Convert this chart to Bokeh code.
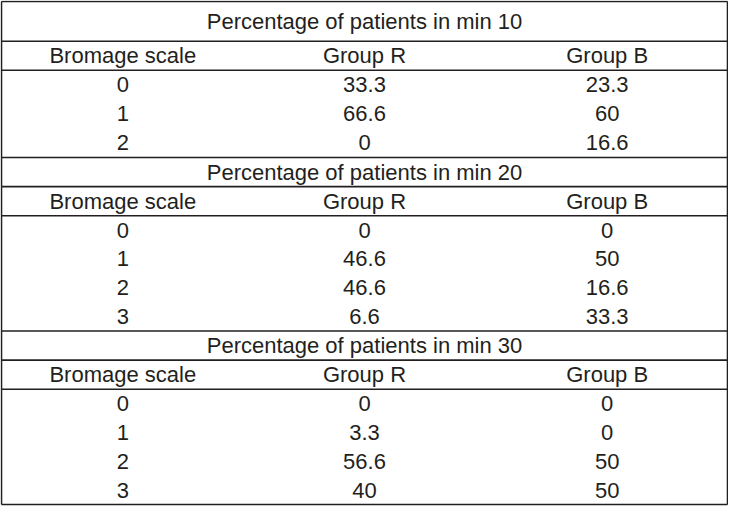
from bokeh.plotting import figure
from bokeh.models import Range1d, ColumnDataSource
from bokeh.embed import file_html
from bokeh.resources import INLINE
from bokeh.core.properties import value

# ---- data ----
minutes = [10, 20, 30]
col_headers = ["Bromage scale", "Group R", "Group B"]
bromage_scales = [["0", "1", "2"], ["0", "1", "2", "3"], ["0", "1", "2", "3"]]
group_r = [["33.3", "66.6", "0"], ["0", "46.6", "46.6", "6.6"], ["0", "3.3", "56.6", "40"]]
group_b = [["23.3", "60", "16.6"], ["0", "50", "16.6", "33.3"], ["0", "0", "50", "50"]]

# ---- layout (reference pixel space) ----
W, H = 744, 522
col_x = [125, 372, 620]
title_h = [41, 30, 30]
header_h = 30
row_h = [30, 29.75, 29.75]
top = 1

tx, ty, tt = [], [], []
line_y = [top]
y = top
for s, m in enumerate(minutes):
    # title row
    tx.append(W / 2); ty.append(y + title_h[s] / 2); tt.append(f"Percentage of patients in min {m}")
    y += title_h[s]
    line_y.append(y)
    # header row
    for cx, h in zip(col_x, col_headers):
        tx.append(cx); ty.append(y + header_h / 2); tt.append(h)
    y += header_h
    line_y.append(y)
    # data rows
    for a, b, c in zip(bromage_scales[s], group_r[s], group_b[s]):
        for cx, v in zip(col_x, (a, b, c)):
            tx.append(cx); ty.append(y + row_h[s] / 2); tt.append(v)
        y += row_h[s]
    line_y.append(y)

p = figure(width=728, height=506, x_range=Range1d(0, W), y_range=Range1d(H, 0),
           output_backend="svg", toolbar_location=None, min_border=0)
p.axis.visible = False
p.grid.visible = False
p.outline_line_color = None
p.background_fill_color = "white"
p.border_fill_color = "white"

ink = "#231f20"
xl, xr = 1, W - 1
p.segment(x0=[xl] * len(line_y), y0=line_y, x1=[xr] * len(line_y), y1=line_y,
          line_width=1.6, line_color=ink)
p.segment(x0=[xl, xr], y0=[line_y[0]] * 2, x1=[xl, xr], y1=[line_y[-1]] * 2,
          line_width=1.6, line_color=ink)

src = ColumnDataSource(dict(x=tx, y=ty, t=tt))
p.text(x="x", y="y", text="t", source=src, text_align="center", text_baseline="middle",
       text_font=value("Liberation Sans"), text_font_size="22px", text_color=ink)

open("out.html", "w").write(file_html(p, INLINE))
